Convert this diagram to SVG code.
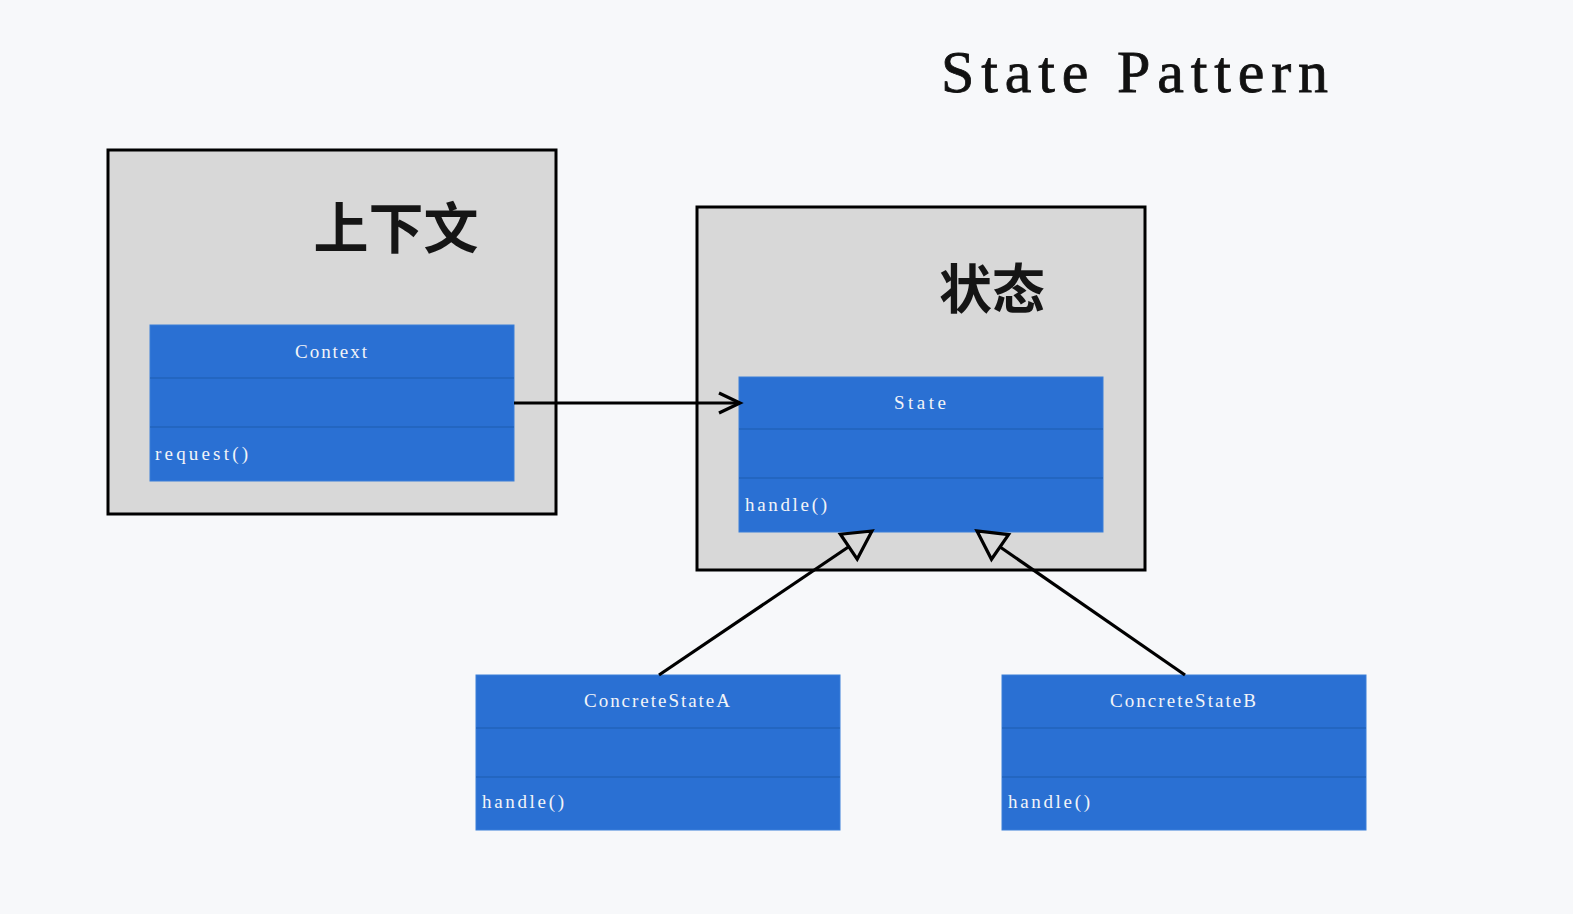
<svg xmlns="http://www.w3.org/2000/svg" width="1573" height="914" viewBox="0 0 1573 914">
<defs>
<style>
.frame{fill:#d8d8d8;stroke:#000;stroke-width:3}
.cls{fill:#2a70d3;stroke:#3a7fd8;stroke-width:1}
.div{stroke:#1c5cb0;stroke-width:1.2}
.ct{font-family:"Liberation Serif",serif;font-size:19px;fill:#f2f4f8}
.big{font-family:"Noto Sans CJK SC",sans-serif;font-weight:bold;fill:#151515}
.title{font-family:"Liberation Serif",serif;font-size:60px;fill:#111;stroke:#111;stroke-width:0.8}
.conn{stroke:#000;stroke-width:3.2;fill:none}
</style>
<marker id="open" markerUnits="userSpaceOnUse" viewBox="-24 -14 28 28" refX="0" refY="0" markerWidth="28" markerHeight="28" orient="auto" overflow="visible">
<path d="M-21,-10 L0,0 L-21,10" fill="none" stroke="#000" stroke-width="3.2"/>
</marker>
<marker id="tri" markerUnits="userSpaceOnUse" viewBox="-31 -18 34 36" refX="0" refY="0" markerWidth="34" markerHeight="36" orient="auto" overflow="visible">
<path d="M0,0 L-28,-15 L-28,15 Z" fill="#d8d8d8" stroke="#000" stroke-width="3.2" stroke-linejoin="miter"/>
</marker>
</defs>
<rect width="1573" height="914" fill="#f7f8fa"/>
<text class="title" x="941" y="92" textLength="387" lengthAdjust="spacing">State Pattern</text>

<g id="context-frame">
<rect class="frame" x="108" y="150" width="448" height="364"/>
<text class="big" x="396" y="248" font-size="55" text-anchor="middle">上下文</text>
</g>
<g id="context">
<rect class="cls" x="150" y="325" width="364" height="156"/>
<line class="div" x1="150" y1="378" x2="514" y2="378"/>
<line class="div" x1="150" y1="427" x2="514" y2="427"/>
<text class="ct" x="295" y="358" textLength="72" lengthAdjust="spacing">Context</text>
<text class="ct" x="155" y="460" textLength="93" lengthAdjust="spacing">request()</text>
</g>

<g id="state-frame">
<rect class="frame" x="697" y="207" width="448" height="363"/>
<text class="big" x="992" y="309" font-size="53" text-anchor="middle">状态</text>
</g>
<g id="state">
<rect class="cls" x="739" y="377" width="364" height="155"/>
<line class="div" x1="739" y1="429" x2="1103" y2="429"/>
<line class="div" x1="739" y1="478" x2="1103" y2="478"/>
<text class="ct" x="894" y="409" textLength="52" lengthAdjust="spacing">State</text>
<text class="ct" x="745" y="511" textLength="82" lengthAdjust="spacing">handle()</text>
</g>

<g id="concreteA">
<rect class="cls" x="476" y="675" width="364" height="155"/>
<line class="div" x1="476" y1="728" x2="840" y2="728"/>
<line class="div" x1="476" y1="777" x2="840" y2="777"/>
<text class="ct" x="584" y="707" textLength="146" lengthAdjust="spacing">ConcreteStateA</text>
<text class="ct" x="482" y="808" textLength="82" lengthAdjust="spacing">handle()</text>
</g>

<g id="concreteB">
<rect class="cls" x="1002" y="675" width="364" height="155"/>
<line class="div" x1="1002" y1="728" x2="1366" y2="728"/>
<line class="div" x1="1002" y1="777" x2="1366" y2="777"/>
<text class="ct" x="1110" y="707" textLength="146" lengthAdjust="spacing">ConcreteStateB</text>
<text class="ct" x="1008" y="808" textLength="82" lengthAdjust="spacing">handle()</text>
</g>

<g id="connectors">
<line class="conn" x1="514" y1="403" x2="740" y2="403" marker-end="url(#open)"/>
<line class="conn" x1="659" y1="675" x2="872" y2="531" marker-end="url(#tri)"/>
<line class="conn" x1="1185" y1="675" x2="977" y2="531" marker-end="url(#tri)"/>
</g>
</svg>
